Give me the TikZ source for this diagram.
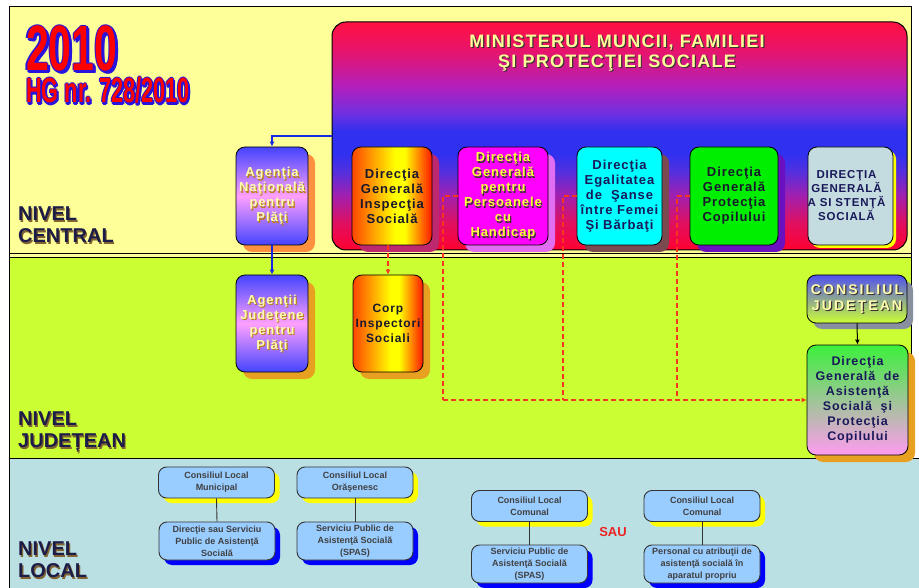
\documentclass[tikz,border=0pt]{standalone}
\usepackage{fontspec}
\setmainfont{Liberation Sans}
\newfontfamily\wide[LetterSpace=7]{Liberation Sans}
\usepackage{graphicx}
\usetikzlibrary{arrows.meta}

\definecolor{centralbg}{RGB}{255,255,153}
\definecolor{countybg}{RGB}{204,255,51}
\definecolor{localbg}{RGB}{187,224,227}
\definecolor{localfill}{RGB}{153,204,255}
\definecolor{yearred}{RGB}{255,0,0}
\definecolor{yearblue}{RGB}{40,20,220}
\definecolor{leveltxt}{RGB}{28,28,72}
\definecolor{levelshade}{RGB}{130,100,50}
\definecolor{paletxt}{RGB}{255,255,175}
\definecolor{yellowtxt}{RGB}{255,255,60}
\definecolor{darkshade}{RGB}{60,50,50}
\definecolor{darktxt}{RGB}{25,25,45}
\definecolor{navytxt}{RGB}{25,25,90}
\definecolor{redlink}{RGB}{245,55,30}
\definecolor{bluelink}{RGB}{20,40,230}
\definecolor{saured}{RGB}{238,34,34}
% ministry gradient, red - blue - red
\definecolor{minred}{RGB}{255,0,48}
\definecolor{minrose}{RGB}{224,16,96}
\definecolor{minplum}{RGB}{160,32,176}
\definecolor{minindigo}{RGB}{80,48,224}
\definecolor{minblue}{RGB}{48,48,240}
\definecolor{minviolet}{RGB}{112,48,224}
\definecolor{minpurple}{RGB}{176,32,192}
\definecolor{minpink}{RGB}{230,20,110}
\definecolor{mintop}{RGB}{255,16,64}
\pgfdeclareverticalshading{ministry}{100bp}{color(0bp)=(minred); color(25bp)=(minred);
  color(31bp)=(minrose); color(37bp)=(minplum); color(42.5bp)=(minindigo); color(46bp)=(minblue);
  color(51bp)=(minblue); color(55bp)=(minviolet); color(60.5bp)=(minpurple); color(68.5bp)=(minpink);
  color(75bp)=(mintop); color(100bp)=(mintop)}
% red-yellow-red boxes
\definecolor{hotleft}{RGB}{255,70,0}
\definecolor{hotright}{RGB}{255,20,0}
\definecolor{hotyellow}{RGB}{255,255,0}
\pgfdeclarehorizontalshading{hotbar}{100bp}{color(0bp)=(hotleft); color(25bp)=(hotleft);
  color(52bp)=(hotyellow); color(58bp)=(hotyellow); color(75bp)=(hotright); color(100bp)=(hotright)}
\definecolor{anpblue}{RGB}{68,68,255}
\definecolor{anppink}{RGB}{255,160,255}
\definecolor{anpshade}{RGB}{255,144,64}
\definecolor{orangeshade}{RGB}{232,160,32}
\definecolor{dgisshade}{RGB}{190,40,110}
\definecolor{dgphfill}{RGB}{255,0,255}
\definecolor{dgphshade}{RGB}{225,110,240}
\definecolor{desfill}{RGB}{0,255,255}
\definecolor{desshade}{RGB}{122,74,80}
\definecolor{dgpcshade}{RGB}{106,16,192}
\definecolor{dgpcgreen}{RGB}{0,238,0}
\definecolor{dgasfill}{RGB}{196,220,224}
\definecolor{dgasshade}{RGB}{255,255,0}
\definecolor{cjshade}{RGB}{136,144,160}
\definecolor{cjblue}{RGB}{80,80,240}
\definecolor{dgagreen}{RGB}{60,240,60}
\definecolor{dgapink}{RGB}{255,155,240}
\definecolor{uppershade}{RGB}{255,255,0}
\definecolor{lowershade}{RGB}{0,0,255}

\newcommand\squeeze[1]{\scalebox{0.64}[1]{#1}}
\newcommand\shadowtext[5]{%
  \node[#3, text=#4] at ([shift={(1.2,1.2)}]#2) {#5};
  \node[#3] (#1) at (#2) {#5};}

\begin{document}
\begin{tikzpicture}[x=1pt, y=-1pt,
  box/.style={draw=black, line width=0.8pt, rounded corners=9pt, inner sep=0pt},
  offshadow/.style={preaction={fill=#1, draw=none, transform canvas={xshift=7pt, yshift=-7pt}}},
  lbl/.style={font=\wide\bfseries\fontsize{13}{15}\selectfont, align=center, inner sep=0pt},
  level/.style={font=\bfseries\fontsize{20}{22}\selectfont, text=leveltxt, align=left,
    inner sep=0pt, anchor=north west},
  year/.style={anchor=base west, inner sep=0pt, font=\bfseries\fontsize{64}{64}\selectfont},
  hg/.style={anchor=base west, inner sep=0pt, font=\bfseries\fontsize{35}{35}\selectfont},
  localbox/.style={draw=black!80, line width=0.9pt, rounded corners=8pt, fill=localfill,
    minimum width=116pt, inner sep=0pt, align=center, text=black!75,
    font=\bfseries\fontsize{9}{12}\selectfont},
  upper/.style={localbox, minimum height=31pt,
    preaction={fill=uppershade, draw=none, transform canvas={xshift=5pt, yshift=-5pt}}},
  lower/.style={localbox, minimum height=38pt,
    preaction={fill=lowershade, draw=none, transform canvas={xshift=5pt, yshift=-5pt}}},
  dashlink/.style={redlink, line width=1.8pt, dash pattern=on 5pt off 3pt},
  tip/.style={-{Latex[length=5pt,width=5pt]}}]
\useasboundingbox (0,0) rectangle (919,588);

% the three levels
\fill[centralbg] (9,7) rectangle (911,257);
\fill[countybg] (9,257) rectangle (911,458);
\fill[localbg] (9,458) rectangle (919,588);
\draw[line width=1pt] (9,588) -- (9,7) -- (911,7) -- (911,458);
\draw[line width=0.8pt] (9,253) -- (911,253) (9,257) -- (911,257);
\draw[line width=1pt] (9,458) -- (919,458);

\shadowtext{lcentral}{18,207}{level}{levelshade}{NIVEL\\CENTRAL}
\shadowtext{lcounty}{18,412}{level}{levelshade}{NIVEL\\JUDEȚEAN}
\shadowtext{llocal}{18,542}{level}{levelshade}{NIVEL\\LOCAL}

% year and decision
\foreach \dx/\dy in {-1.5/0, 1.5/0, 0/-1.5, 0/1.5, 1.5/1.5, 2.5/2.5, 3/1.5, 1.5/3}{
  \node[year, text=yearblue] at (26+\dx,71+\dy) {\squeeze{2010}};
  \node[hg, text=yearblue] at (26+\dx*0.7,103+\dy*0.7) {\scalebox{0.62}[1]{HG nr. 728/2010}};
}
\node[year, text=yearred] (yr) at (26,71) {\squeeze{2010}};
\node[hg, text=yearred] (hg) at (26,103) {\scalebox{0.62}[1]{HG nr. 728/2010}};

% ministry
\node[box, rounded corners=14pt, line width=1pt, shading=ministry,
  minimum width=575pt, minimum height=228pt] (ministry) at (619.5,136) {};
\shadowtext{title}{617,35}{lbl, anchor=north, font=\wide\bfseries\fontsize{18}{20}\selectfont,
  text=centralbg}{darkshade}{MINISTERUL MUNCII, FAMILIEI\\ŞI PROTECŢIEI SOCIALE}

% central level
\node[box, offshadow=anpshade, top color=anpblue, bottom color=anpblue, middle color=anppink,
  minimum width=72pt, minimum height=98pt] (ana) at (272,196) {};
\node[box, offshadow=dgisshade, shading=hotbar,
  minimum width=80pt, minimum height=98pt] (dgis) at (392,196) {};
\node[box, offshadow=dgphshade, fill=dgphfill,
  minimum width=90pt, minimum height=98pt] (dgph) at (503,196) {};
\node[box, offshadow=desshade, fill=desfill,
  minimum width=85pt, minimum height=98pt] (des) at (619.5,196) {};
\node[box, offshadow=dgpcshade, fill=dgpcgreen,
  minimum width=88pt, minimum height=98pt] (dgpc) at (734,196) {};
\node[box, preaction={fill=dgasshade, draw=none, transform canvas={xshift=3pt, yshift=-3pt}},
  fill=dgasfill, minimum width=85pt, minimum height=98pt] (dgas) at (850.5,196) {};

\shadowtext{anatxt}{ana}{lbl, text=paletxt}{orangeshade!80!black}{Agenţia\\Naţională\\pentru\\Plăţi}
\node[lbl, text=darktxt] (dgistxt) at (dgis) {Direcţia\\Generală\\Inspecţia\\Socială};
\shadowtext{dgphtxt}{dgph}{lbl, text=yellowtxt}{darkshade}{Direcţia\\Generală\\pentru\\Persoanele\\cu\\Handicap}
\node[lbl, text=navytxt] (destxt) at (des) {Direcţia\\Egalitatea\\de~ Şanse\\între Femei\\Şi Bărbaţi};
\node[lbl, text=darktxt] (dgpctxt) at (dgpc) {Direcţia\\Generală\\Protecţia\\Copilului};
\node[lbl, text=navytxt, font=\wide\bfseries\fontsize{11.5}{14}\selectfont] (dgastxt)
  at ([xshift=-4]dgas) {DIRECŢIA\\GENERALĂ\\A SI STENŢĂ\\SOCIALĂ};

% county level
\node[box, offshadow=orangeshade, top color=anpblue, bottom color=anpblue,
  middle color=anppink, minimum width=72pt, minimum height=97pt] (ajp) at (272,323.5) {};
\node[box, offshadow=orangeshade, shading=hotbar, minimum width=70pt,
  minimum height=97pt] (cis) at (388,323.5) {};
\node[box, preaction={fill=cjshade, draw=none, transform canvas={xshift=6pt, yshift=-6pt}},
  top color=cjblue, bottom color=countybg, minimum width=100pt, minimum height=48pt]
  (cj) at (857,299) {};
\node[box, offshadow=orangeshade, top color=dgagreen, bottom color=dgapink,
  minimum width=101pt, minimum height=110pt] (dgaspc) at (857.5,400) {};

\shadowtext{ajptxt}{ajp}{lbl, text=paletxt}{orangeshade!80!black}{Agenţii\\Judeţene\\pentru\\Plăţi}
\node[lbl, text=darktxt, font=\wide\bfseries\fontsize{12}{15}\selectfont] (cistxt)
  at (cis) {Corp\\Inspectori\\Sociali};
\shadowtext{cjtxt}{cj}{lbl, text=paletxt, font=\wide\bfseries\addfontfeature{LetterSpace=15}\fontsize{14}{16}\selectfont}{darkshade}{CONSILIUL\\JUDEŢEAN}
\node[lbl, text=navytxt, font=\wide\bfseries\fontsize{12.5}{15}\selectfont] (dgaspctxt)
  at (dgaspc) {Direcţia\\Generală~ de\\Asistenţă\\Socială~ şi\\Protecţia\\Copilului};

% local level
\node[upper] (clm) at (216.5,482.5) {Consiliul Local\\Municipal};
\node[lower] (dsp) at (217,541) {Direcţie sau Serviciu\\Public de Asistenţă\\Socială};
\node[upper] (clo) at (355,482.5) {Consiliul Local\\Orăşenesc};
\node[lower] (spo) at (355,541) {Serviciu Public de\\Asistenţă Socială\\(SPAS)};
\node[upper] (clc) at (529.5,506) {Consiliul Local\\Comunal};
\node[lower] (spc) at (529.5,564) {Serviciu Public de\\Asistenţă Socială\\(SPAS)};
\node[upper] (clk) at (702,506) {Consiliul Local\\Comunal};
\node[lower] (pap) at (702,564) {Personal cu atribuţii de\\asistenţă socială în\\aparatul propriu};
\node[font=\bfseries\fontsize{13}{13}\selectfont, text=saured] (sau) at (613,532) {SAU};
\foreach \a/\b in {clm/dsp, clo/spo, clc/spc, clk/pap}
  \draw[black!80, line width=0.9pt] (\a.south) -- (\b.north);

% links
\draw[bluelink, line width=1.2pt, tip] (ministry.west) -| (ana.north);
\draw[bluelink, line width=1.2pt, tip] (ana.south) -- (ajp.north);
\draw[dashlink, tip] (cis.north |- dgis.south) -- (cis.north);
\draw[dashlink] (dgph.west) -- ++(-15,0) coordinate (b1) -- (b1 |- dgaspc.west) coordinate (b1e);
\draw[dashlink, tip] (b1e) -- (dgaspc.west);
\draw[dashlink] (des.west) -- ++(-14,0) coordinate (b2) -- (b2 |- dgaspc.west);
\draw[dashlink] (dgpc.west) -- ++(-13,0) coordinate (b3) -- (b3 |- dgaspc.west);
\draw[line width=1pt, tip] (cj.south) -- (dgaspc.north);
\end{tikzpicture}
\end{document}
